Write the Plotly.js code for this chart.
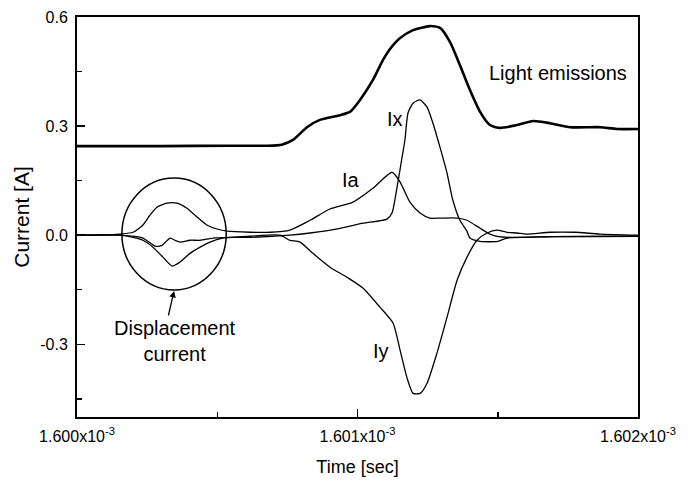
<!DOCTYPE html>
<html>
<head>
<meta charset="utf-8">
<script src="https://cdn.plot.ly/plotly-3.0.1.min.js"></script>
<style>html,body{margin:0;padding:0;background:#fff;}#chart{width:697px;height:481px;}</style>
</head>
<body>
<div id="chart"></div>
<script>
// time in microseconds (absolute: 1600 us = 1.600x10^-3 s), current in A
const lightT = [1600.000,1600.300,1600.550,1600.680,1600.730,1600.770,1600.820,1600.866,1600.938,1600.973,1601.009,1601.055,1601.091,1601.116,1601.152,1601.198,1601.258,1601.294,1601.330,1601.365,1601.401,1601.437,1601.472,1601.508,1601.569,1601.626,1601.686,1601.758,1601.865,1601.925,1602.000];
const lightV = [0.245,0.245,0.246,0.246,0.249,0.262,0.297,0.317,0.330,0.339,0.372,0.427,0.482,0.512,0.542,0.564,0.575,0.570,0.531,0.468,0.399,0.339,0.303,0.295,0.303,0.314,0.308,0.297,0.297,0.292,0.292];

const iaT = [1600.000,1600.082,1600.153,1600.200,1600.235,1600.260,1600.285,1600.321,1600.357,1600.392,1600.428,1600.463,1600.499,1600.535,1600.617,1600.688,1600.759,1600.831,1600.902,1600.984,1601.055,1601.123,1601.152,1601.187,1601.223,1601.258,1601.294,1601.355,1601.390,1601.437,1601.472,1601.497,1601.550,1601.700,1602.000];
const iaV = [0,0,0.003,0.008,0.028,0.055,0.077,0.088,0.088,0.074,0.050,0.028,0.017,0.011,0.008,0.008,0.014,0.041,0.072,0.091,0.129,0.173,0.146,0.091,0.061,0.047,0.047,0.047,0.041,0.019,0.003,-0.003,-0.006,-0.004,-0.003];

const ixT = [1600.000,1600.153,1600.235,1600.278,1600.303,1600.332,1600.349,1600.367,1600.403,1600.439,1600.485,1600.556,1600.617,1600.759,1600.831,1600.938,1601.020,1601.105,1601.123,1601.141,1601.159,1601.169,1601.180,1601.198,1601.223,1601.248,1601.269,1601.294,1601.319,1601.340,1601.365,1601.390,1601.401,1601.437,1601.500,1601.533,1601.600,1601.700,1602.000];
const ixV = [0,0,-0.008,-0.030,-0.028,-0.008,-0.014,-0.019,-0.014,-0.014,-0.008,-0.006,-0.006,0,0.006,0.019,0.033,0.044,0.061,0.132,0.215,0.261,0.336,0.363,0.372,0.352,0.308,0.242,0.171,0.096,0.041,0.011,-0.008,-0.017,-0.017,-0.008,-0.006,-0.004,-0.003];

const iyT = [1600.000,1600.153,1600.200,1600.235,1600.271,1600.307,1600.339,1600.367,1600.403,1600.439,1600.474,1600.520,1600.617,1600.724,1600.759,1600.795,1600.841,1600.902,1600.963,1601.020,1601.080,1601.127,1601.152,1601.176,1601.198,1601.223,1601.248,1601.283,1601.319,1601.355,1601.390,1601.426,1601.462,1601.497,1601.533,1601.569,1601.604,1601.686,1601.775,1601.865,1602.000];
const iyV = [0,0,-0.006,-0.014,-0.033,-0.061,-0.085,-0.074,-0.050,-0.033,-0.019,-0.008,-0.003,0,-0.014,-0.019,-0.050,-0.088,-0.116,-0.146,-0.198,-0.242,-0.317,-0.391,-0.435,-0.435,-0.407,-0.325,-0.226,-0.124,-0.061,-0.014,0.006,0.014,0.008,0.006,0.003,0.008,0.008,0.003,0];

const xTickVals = [1600, 1601, 1602];
const xTickText = ['1.600x10<sup>-3</sup>', '1.601x10<sup>-3</sup>', '1.602x10<sup>-3</sup>'];
const yTickVals = [-0.3, 0, 0.3, 0.6];
const yTickText = ['-0.3', '0.0', '0.3', '0.6'];

const FONT = 'Arial, "Liberation Sans", sans-serif';
const thin = {color: '#000', width: 1.3, shape: 'spline', smoothing: 0.6};

const traces = [
  {x: lightT, y: lightV, mode: 'lines', name: 'Light emissions', line: {color: '#000', width: 2.6, shape: 'spline', smoothing: 0.6}},
  {x: iaT, y: iaV, mode: 'lines', name: 'Ia', line: thin},
  {x: ixT, y: ixV, mode: 'lines', name: 'Ix', line: thin},
  {x: iyT, y: iyV, mode: 'lines', name: 'Iy', line: thin}
];

const layout = {
  width: 697, height: 481,
  margin: {l: 77, r: 59, t: 17, b: 64},
  paper_bgcolor: '#fff', plot_bgcolor: '#fff',
  showlegend: false,
  font: {family: FONT, color: '#000', size: 16},
  xaxis: {
    range: [1600, 1602], tickvals: xTickVals, ticktext: xTickText,
    ticks: 'inside', ticklen: 8, tickwidth: 1.5, tickcolor: '#000',
    showline: true, linecolor: '#000', linewidth: 2, mirror: true,
    showgrid: false, zeroline: false, ticklabelstandoff: 4,
    minor: {ticks: 'inside', ticklen: 5, tickwidth: 1.5, tickcolor: '#000', dtick: 0.5, tick0: 1600, showgrid: false},
    tickfont: {size: 16, family: FONT},
    title: {text: 'Time [sec]', font: {size: 18, family: FONT}, standoff: 16}
  },
  yaxis: {
    range: [-0.5, 0.6], tickvals: yTickVals, ticktext: yTickText,
    ticks: 'inside', ticklen: 8, tickwidth: 1.5, tickcolor: '#000',
    showline: true, linecolor: '#000', linewidth: 2, mirror: true,
    showgrid: false, zeroline: false, ticklabelstandoff: 4,
    minor: {ticks: 'inside', ticklen: 5, tickwidth: 1.5, tickcolor: '#000', tickvals: [-0.45, -0.15, 0.15, 0.45], showgrid: false},
    tickfont: {size: 16, family: FONT},
    title: {text: 'Current [A]', font: {size: 21, family: FONT}, standoff: 5}
  },
  shapes: [
    {type: 'circle', xref: 'paper', yref: 'paper', x0: 0.080, x1: 0.266, y0: 0.3175, y1: 0.5975, line: {color: '#000', width: 1.5}}
  ],
  annotations: [
    {xref: 'paper', yref: 'paper', x: 0.857, y: 0.86, xanchor: 'center', yanchor: 'middle', text: 'Light emissions', showarrow: false, font: {size: 20, family: FONT}},
    {xref: 'paper', yref: 'paper', x: 0.567, y: 0.745, xanchor: 'center', yanchor: 'middle', text: 'Ix', showarrow: false, font: {size: 20, family: FONT}},
    {xref: 'paper', yref: 'paper', x: 0.488, y: 0.5925, xanchor: 'center', yanchor: 'middle', text: 'Ia', showarrow: false, font: {size: 20, family: FONT}},
    {xref: 'paper', yref: 'paper', x: 0.542, y: 0.165, xanchor: 'center', yanchor: 'middle', text: 'Iy', showarrow: false, font: {size: 20, family: FONT}},
    {xref: 'paper', yref: 'paper', x: 0.175, y: 0.189, xanchor: 'center', yanchor: 'middle', text: 'Displacement<br>current', showarrow: false, font: {size: 20, family: FONT}},
    {xref: 'paper', yref: 'paper', x: 0.173, y: 0.315, text: '', showarrow: true, ax: -6, ay: 26, arrowhead: 2, arrowsize: 1, arrowwidth: 1.3, arrowcolor: '#000'}
  ]
};

Plotly.newPlot('chart', traces, layout, {displayModeBar: false, staticPlot: true});
</script>
</body>
</html>
